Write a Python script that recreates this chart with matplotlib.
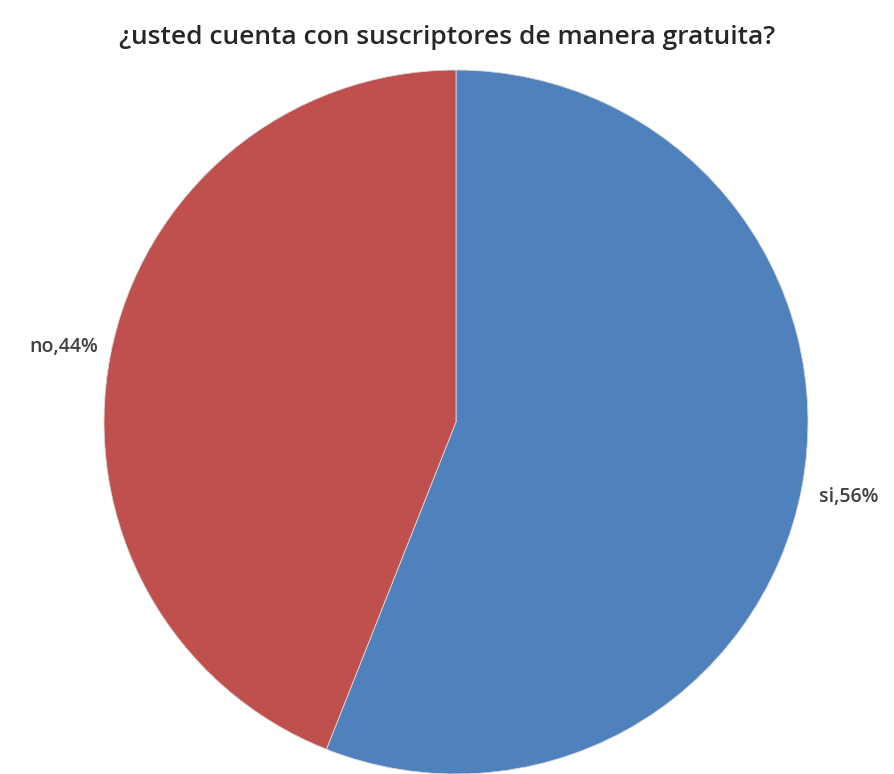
import numpy as np
import matplotlib.pyplot as plt
from matplotlib import font_manager

categories = ["si", "no"]
shares = [56, 44]
colors = ["#4F81BD", "#C0504D"]
title = "¿usted cuenta con suscriptores de manera gratuita?"

installed = {f.name for f in font_manager.fontManager.ttflist}
family = [f for f in ["Liberation Sans Narrow", "Open Sans", "DejaVu Sans"] if f in installed]
plt.rcParams["font.family"] = family

W, H = 894, 774
fig = plt.figure(figsize=(W / 100, H / 100), dpi=100)
cx, cy, r = 456, 422, 352
ax = fig.add_axes([(cx - r) / W, (H - cy - r) / H, 2 * r / W, 2 * r / H])

wedges, _ = ax.pie(shares, colors=colors, startangle=90, counterclock=False,
                   radius=1, wedgeprops=dict(edgecolor="#d9d9d9", linewidth=0.6))
ax.set_xlim(-1, 1)
ax.set_ylim(-1, 1)
ax.set_aspect("equal")
ax.axis("off")
for w in wedges:
    w.set_clip_on(False)

for w, cat, val in zip(wedges, categories, shares):
    mid = np.deg2rad((w.theta1 + w.theta2) / 2)
    ax.text(1.135 * np.cos(mid), 1.135 * np.sin(mid), f"{cat},{val}%",
            ha="center", va="center", fontsize=14, fontweight="semibold",
            color="#404040", clip_on=False)

fig.text(0.5, 1 - 37 / H, title, ha="center", va="center", fontsize=19,
         fontweight="semibold", color="#262626")

fig.savefig("out.png", dpi=100)
